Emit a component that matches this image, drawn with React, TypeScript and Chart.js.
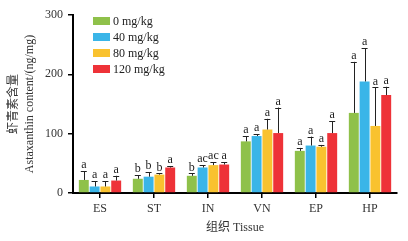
import React, { useEffect, useRef } from "react";
import { Chart, registerables } from "chart.js";

Chart.register(...registerables);

const categories = ["ES", "ST", "IN", "VN", "EP", "HP"];
const seriesNames = ["0 mg/kg", "40 mg/kg", "80 mg/kg", "120 mg/kg"];
const colors = ["#8FC14A", "#3AB5E8", "#F9C22F", "#EE3238"];

const dose0 = [22, 24, 29, 87, 71, 135];
const dose40 = [11, 27.5, 43, 96, 80, 188];
const dose80 = [11, 31, 47, 107, 78, 113];
const dose120 = [21, 43, 48, 101, 101, 165];

const err0 = [15, 6, 4, 9, 5, 86];
const err40 = [9, 7.5, 4, 3, 15, 56];
const err80 = [9, 2, 5, 18, 3, 65];
const err120 = [8, 2.5, 4, 43, 20, 14];

const sig0 = ["a", "b", "b", "a", "a", "a"];
const sig40 = ["a", "b", "ac", "a", "a", "a"];
const sig80 = ["a", "b", "ac", "a", "a", "a"];
const sig120 = ["a", "a", "a", "a", "a", "a"];

const yTicks = [0, 100, 200, 300];

const values = [dose0, dose40, dose80, dose120];
const errors = [err0, err40, err80, err120];
const sigs = [sig0, sig40, sig80, sig120];

const FONT = "'Liberation Serif', 'Times New Roman', 'Noto Sans CJK SC', serif";

const errorPlugin = {
  id: "errorBars",
  afterDatasetsDraw(chart: any) {
    const ctx = chart.ctx;
    const yScale = chart.scales.y;
    ctx.save();
    chart.data.datasets.forEach((ds: any, di: number) => {
      const meta = chart.getDatasetMeta(di);
      meta.data.forEach((bar: any, i: number) => {
        const v = ds.data[i];
        const e = errors[di][i];
        const x = bar.x;
        const yTop = yScale.getPixelForValue(v + e);
        const yVal = yScale.getPixelForValue(v);
        ctx.strokeStyle = "#222";
        ctx.lineWidth = 1;
        ctx.beginPath();
        ctx.moveTo(Math.round(x) + 0.5, yVal);
        ctx.lineTo(Math.round(x) + 0.5, yTop);
        ctx.moveTo(x - 3, Math.round(yTop) + 0.5);
        ctx.lineTo(x + 3, Math.round(yTop) + 0.5);
        ctx.stroke();
        ctx.fillStyle = "#222";
        ctx.font = `12px ${FONT}`;
        ctx.textAlign = "center";
        ctx.textBaseline = "bottom";
        ctx.fillText(sigs[di][i], x, yTop);
      });
    });
    ctx.restore();
  },
};

const legendPlugin = {
  id: "innerLegend",
  afterDraw(chart: any) {
    const ctx = chart.ctx;
    ctx.save();
    seriesNames.forEach((name, i) => {
      const cy = 21 + i * 16;
      ctx.fillStyle = colors[i];
      ctx.fillRect(93, cy - 4, 17, 8);
      ctx.fillStyle = "#222";
      ctx.font = `12px ${FONT}`;
      ctx.textAlign = "left";
      ctx.textBaseline = "middle";
      ctx.fillText(name, 113, cy + 0.5);
    });
    ctx.restore();
  },
};

export default function App() {
  const ref = useRef<HTMLCanvasElement>(null);
  useEffect(() => {
    document.body.style.margin = "0";
    const chart = new Chart(ref.current!, {
      type: "bar",
      data: {
        labels: categories,
        datasets: seriesNames.map((n, i) => ({
          label: n,
          data: values[i],
          backgroundColor: colors[i],
          borderWidth: 0,
          categoryPercentage: 0.8,
          barPercentage: 0.92,
        })),
      },
      options: {
        responsive: false,
        animation: false,
        layout: { padding: { top: 15, right: 11, left: 0, bottom: 0 } },
        plugins: { legend: { display: false }, tooltip: { enabled: false } },
        scales: {
          x: {
            grid: {
              offset: false,
              drawOnChartArea: false,
              drawTicks: true,
              tickLength: 5,
              color: "#000",
              lineWidth: 1.5,
            },
            border: { color: "#000", width: 2 },
            ticks: { color: "#333", font: { family: FONT, size: 12 }, padding: 4 },
            title: {
              display: true,
              text: "组织 Tissue",
              color: "#333",
              font: { family: FONT, size: 12 },
              padding: { top: 0, bottom: 6 },
            },
            afterFit(scale: any) {
              scale.height = 48;
            },
          },
          y: {
            min: 0,
            max: 300,
            afterBuildTicks(scale: any) {
              scale.ticks = yTicks.map((v) => ({ value: v }));
            },
            grid: {
              drawOnChartArea: false,
              drawTicks: true,
              tickLength: 5,
              color: "#000",
              lineWidth: 1.5,
            },
            border: { color: "#000", width: 2 },
            ticks: { color: "#333", font: { family: FONT, size: 12 }, padding: 5 },
            title: {
              display: true,
              text: ["虾青素含量", "Astaxanthin content/(ng/mg)"],
              color: "#333",
              font: { family: FONT, size: 12, lineHeight: 1.4 },
              padding: { top: 5, bottom: 0 },
            },
            afterFit(scale: any) {
              scale.width = 73;
            },
          },
        },
      },
      plugins: [errorPlugin, legendPlugin],
    });
    return () => chart.destroy();
  }, []);
  return <canvas ref={ref} width={408} height={241} style={{ display: "block" }} />;
}
